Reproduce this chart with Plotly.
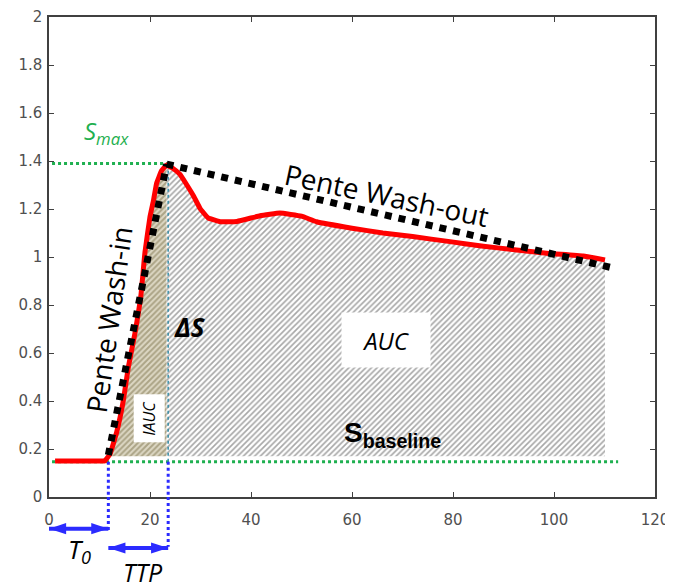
import plotly.graph_objects as go

# ---------------- data ----------------
curve_x = [1.2, 4, 7, 10, 11.0, 12.1, 13.4, 14.7, 15.7, 17.0, 18.2, 19.0, 20.0, 20.7, 21.3, 22.3, 23.3,
           24.5, 25.9, 27.3, 28.6, 29.9, 31.5, 33.9, 37.2, 41.8, 45.7, 50.0, 53.0, 60.0, 66.1, 72.0,
           79.4, 86.0, 92.6, 99.0, 105.8, 110.1]
curve_y = [0.15, 0.15, 0.15, 0.15, 0.15, 0.18, 0.27, 0.40, 0.54, 0.68, 0.84, 1.02, 1.168, 1.237, 1.307, 1.36, 1.383,
           1.37, 1.345, 1.30, 1.255, 1.203, 1.163, 1.147, 1.148, 1.172, 1.183, 1.17, 1.147, 1.12, 1.10, 1.085,
           1.064, 1.045, 1.029, 1.015, 1.004, 0.988]

washin_x = [11.75, 23.3]
washin_y = [0.175, 1.387]
washout_x = [23.3, 111.7]
washout_y = [1.387, 0.954]

s_max = 1.39
s_base = 0.147
hatch_floor = 0.17
t0 = 11.75
ttp_end = 23.6
line_start = 0.6
base_line_end = 112.7
auc_end = 110.1

# positions below the x axis (same units as the y axis)
t0_arrow_y = -0.132
ttp_arrow_y = -0.2125
t0_line_bottom = -0.145
ttp_line_bottom = -0.207

x_ticks = [0, 20, 40, 60, 80, 100, 120]
y_ticks = [0, 0.2, 0.4, 0.6, 0.8, 1, 1.2, 1.4, 1.6, 1.8, 2]

# ---------------- layout geometry ----------------
W, H = 665, 580          # page body has an 8px margin
m_l, m_r, m_t, m_b = 41, 18, 9, 2
main_px = 480            # height of the main plot in px
plot_px = H - m_t - m_b
main_frac = main_px / plot_px
px_per_unit = main_px / 2.0
aux_range = [-(plot_px - main_px) / px_per_unit, 0]

# ---------------- figure ----------------
fig = go.Figure()

def region(a, b):
    xs = [x for x in curve_x if a <= x <= b]
    ys = [y for x, y in zip(curve_x, curve_y) if a <= x <= b]
    return xs + [b, xs[0]], ys + [hatch_floor, hatch_floor]

# IAUC hatched region
ix, iy = region(12.1, 23.3)
fig.add_trace(go.Scatter(x=ix, y=iy, mode="lines", line=dict(width=0), fill="toself",
                         fillcolor="rgba(0,0,0,0)",
                         fillpattern=dict(shape="/", size=4, solidity=0.5,
                                          fgcolor="#7a7048", bgcolor="#ddd8c4"),
                         hoverinfo="skip", showlegend=False))
# AUC hatched region
ax_, ay_ = region(23.3, auc_end)
fig.add_trace(go.Scatter(x=ax_, y=ay_, mode="lines", line=dict(width=0), fill="toself",
                         fillcolor="rgba(0,0,0,0)",
                         fillpattern=dict(shape="/", size=4, solidity=0.42,
                                          fgcolor="#505050", bgcolor="white"),
                         hoverinfo="skip", showlegend=False))

# green dotted lines
green = "#1fb050"
fig.add_trace(go.Scatter(x=[line_start, 23.3], y=[s_max, s_max], mode="lines",
                         line=dict(color=green, width=3, dash="dot"), showlegend=False))
fig.add_trace(go.Scatter(x=[line_start, base_line_end], y=[s_base, s_base], mode="lines",
                         line=dict(color=green, width=3, dash="dot"), showlegend=False))
fig.add_trace(go.Scatter(x=[ttp_end, ttp_end], y=[s_base, s_max], mode="lines",
                         line=dict(color="#3a90a8", width=1.5, dash="dot"), showlegend=False))

# blue dotted verticals (main part)
blue = "#2b2bff"
for xv in [t0, ttp_end]:
    fig.add_trace(go.Scatter(x=[xv, xv], y=[s_base, 0], mode="lines",
                             line=dict(color=blue, width=3, dash="dot"), showlegend=False))

# red signal curve
fig.add_trace(go.Scatter(x=curve_x, y=curve_y, mode="lines",
                         line=dict(color="#ff0000", width=5, shape="spline", smoothing=0.3),
                         showlegend=False))
# black dotted slopes
fig.add_trace(go.Scatter(x=washin_x, y=washin_y, mode="lines",
                         line=dict(color="black", width=7, dash="dot"), showlegend=False))
fig.add_trace(go.Scatter(x=washout_x, y=washout_y, mode="lines",
                         line=dict(color="black", width=7, dash="dot"), showlegend=False))

# ---- auxiliary strip below the axis: dotted extensions and double arrows ----
for xv, yb in [(t0, t0_line_bottom), (ttp_end, ttp_line_bottom)]:
    fig.add_trace(go.Scatter(x=[xv, xv], y=[0, yb], mode="lines", xaxis="x2", yaxis="y2",
                             line=dict(color=blue, width=3, dash="dot"), showlegend=False,
                             cliponaxis=False))
for xa, xb, yy in [(0, t0, t0_arrow_y), (t0, ttp_end, ttp_arrow_y)]:
    fig.add_trace(go.Scatter(x=[xa, xb], y=[yy, yy], mode="lines+markers", xaxis="x2", yaxis="y2",
                             line=dict(color=blue, width=4),
                             marker=dict(symbol="arrow", size=18, angle=[-90, 90], color=blue,
                                         line=dict(width=0)),
                             showlegend=False, cliponaxis=False))

txt_font = "Open Sans"
fig.add_annotation(x=6.1, y=-0.222, xref="x2", yref="y2", showarrow=False, xanchor="center", yanchor="middle",
                   text="<i>T<sub>0</sub></i>", font=dict(family=txt_font, size=26, color="black"))
fig.add_annotation(x=18.7, y=-0.312, xref="x2", yref="y2", showarrow=False, xanchor="center", yanchor="middle",
                   text="<i>TTP</i>", font=dict(family=txt_font, size=25, color="black"))

# text labels
fig.add_annotation(x=11.4, y=1.52, showarrow=False, text="<i>S<sub>max</sub></i>",
                   font=dict(family=txt_font, size=24, color=green))
fig.add_annotation(x=11.9, y=0.74, showarrow=False, text="Pente Wash-in", textangle=-82,
                   font=dict(family=txt_font, size=28, color="black"))
fig.add_annotation(x=66.9, y=1.26, showarrow=False, text="Pente Wash-out", textangle=12,
                   font=dict(family=txt_font, size=28, color="black"))
fig.add_annotation(x=27.9, y=0.71, showarrow=False, text="<b><i>ΔS</i></b>",
                   font=dict(family=txt_font, size=26, color="black"))
fig.add_annotation(x=66.8, y=0.654, showarrow=False, text="<i>AUC</i>", width=86, height=52,
                   bgcolor="white", font=dict(family=txt_font, size=24, color="black"))
fig.add_annotation(x=19.8, y=0.33, showarrow=False, text="<i>IAUC</i>", width=45, height=28,
                   textangle=-90, bgcolor="white", font=dict(family=txt_font, size=16, color="black"))
fig.add_annotation(x=68.1, y=0.262, showarrow=False,
                   text="<b>S<sub>baseline</sub></b>",
                   font=dict(family="Liberation Sans", size=28, color="black"))

axis_common = dict(showline=True, linecolor="#404040", linewidth=1.5, mirror="ticks",
                   ticks="inside", ticklen=5, tickwidth=1, tickcolor="#404040",
                   showgrid=False, zeroline=False, automargin=False,
                   tickfont=dict(family="DejaVu Sans", size=15, color="#505050"))

fig.update_layout(
    width=W, height=H,
    margin=dict(l=m_l, r=m_r, t=m_t, b=m_b, autoexpand=False),
    plot_bgcolor="rgba(0,0,0,0)", paper_bgcolor="white",
    xaxis=dict(range=[0, 120], tickvals=x_ticks, ticklabelstandoff=8, anchor="y", **axis_common),
    yaxis=dict(range=[0, 2], tickvals=y_ticks, ticklabelstandoff=2, anchor="x",
               domain=[1 - main_frac, 1], **axis_common),
    xaxis2=dict(range=[0, 120], matches="x", anchor="y2", visible=False, automargin=False),
    yaxis2=dict(range=aux_range, domain=[0, 1 - main_frac], anchor="x2", visible=False, automargin=False),
)

fig.write_html("out.html")
